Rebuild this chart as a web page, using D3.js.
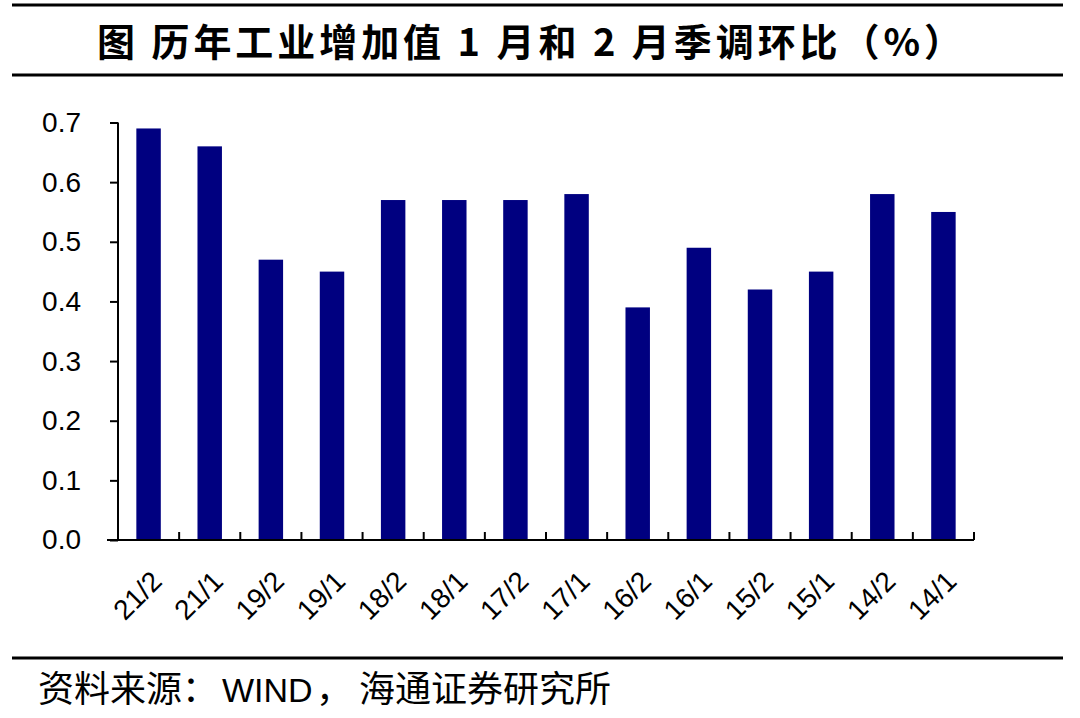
<!DOCTYPE html>
<html><head><meta charset="utf-8">
<script src="https://cdn.jsdelivr.net/npm/d3@7"></script>
<style>body{margin:0;background:#fff}svg{display:block}</style>
</head><body>
<svg id="c" width="1080" height="718"></svg>
<script>
const categories = ["21/2","21/1","19/2","19/1","18/2","18/1","17/2","17/1","16/2","16/1","15/2","15/1","14/2","14/1"];
const values = [0.69,0.66,0.47,0.45,0.57,0.57,0.57,0.58,0.39,0.49,0.42,0.45,0.58,0.55];
const yTicks = [0,0.1,0.2,0.3,0.4,0.5,0.6,0.7];
const titleText = "图  历年工业增加值 1 月和 2 月季调环比（%）";
const sourceParts = ["资料来源：","WIND","，","海通证券研究所"];

const svg = d3.select("#c");
const L = 118, R = 974, T = 122.5, B = 540;
const x = d3.scaleBand().domain(categories).range([L, R]).paddingInner(0.6).paddingOuter(0.3);
const xb = d3.scaleBand().domain(categories).range([L, R]);
const y = d3.scaleLinear().domain([0, 0.7]).range([B, T]);

// frame lines
svg.append("line").attr("x1",12).attr("x2",1063).attr("y1",5).attr("y2",5).attr("stroke","#000").attr("stroke-width",3);
svg.append("line").attr("x1",12).attr("x2",1063).attr("y1",75).attr("y2",75).attr("stroke","#000").attr("stroke-width",3);
svg.append("line").attr("x1",12).attr("x2",1063).attr("y1",658).attr("y2",658).attr("stroke","#000").attr("stroke-width",3);

svg.append("text").attr("x",97).attr("y",56)
  .attr("font-family","'Noto Sans CJK SC', sans-serif").attr("font-weight","bold").attr("font-size",38)
  .attr("textLength",865).attr("lengthAdjust","spacing")
  .attr("fill","#000").text(titleText);

const src = svg.append("text").attr("y",702).attr("fill","#000");
const srcX = [38, 222, 316, 359];
sourceParts.forEach((p,i)=>{
  src.append("tspan").attr("x",srcX[i])
    .attr("font-family", i===1 ? "'Liberation Sans', Arial, sans-serif" : "'Noto Sans CJK SC', sans-serif")
    .attr("font-size", i===1 ? 34 : 36).text(p);
});

// bars
svg.append("g").selectAll("rect").data(values).join("rect")
  .attr("x",(d,i)=>x(categories[i])).attr("width",x.bandwidth())
  .attr("y",d=>y(d)).attr("height",d=>B-y(d)).attr("fill","#000080");

// y axis
const ya = svg.append("g").attr("transform",`translate(${L},0)`)
  .call(d3.axisLeft(y).tickValues(yTicks).tickFormat(d3.format(".1f")).tickSize(8).tickPadding(29));
ya.select(".domain").attr("stroke","#000").attr("stroke-width",2).attr("d",`M0,${B}V${T}`);
ya.selectAll(".tick line").attr("stroke","#000").attr("stroke-width",2);
ya.selectAll(".tick text").attr("font-family","'Liberation Sans', Arial, sans-serif").attr("font-size",28).attr("fill","#000");

// x axis
const xa = svg.append("g").attr("transform",`translate(0,${B})`)
  .call(d3.axisBottom(xb).tickSize(0).tickFormat(""));
xa.select(".domain").attr("stroke","#000").attr("stroke-width",2).attr("d",`M107,0H${R}`);
xa.selectAll(".tick").remove();
const bounds = categories.map(c => xb(c) + xb.bandwidth());
xa.selectAll("line.sep").data(bounds).join("line").attr("class","sep")
  .attr("x1",d=>d).attr("x2",d=>d).attr("y1",0).attr("y2",-8).attr("stroke","#000").attr("stroke-width",2);
xa.selectAll("text.lab").data(categories).join("text").attr("class","lab")
  .attr("transform",d=>`translate(${xb(d)+xb.bandwidth()/2+8},${36}) rotate(-45)`)
  .attr("text-anchor","end").attr("dy","0.35em")
  .attr("font-family","'Liberation Sans', Arial, sans-serif").attr("font-size",28).attr("fill","#000")
  .text(d=>d);
</script>
</body></html>
